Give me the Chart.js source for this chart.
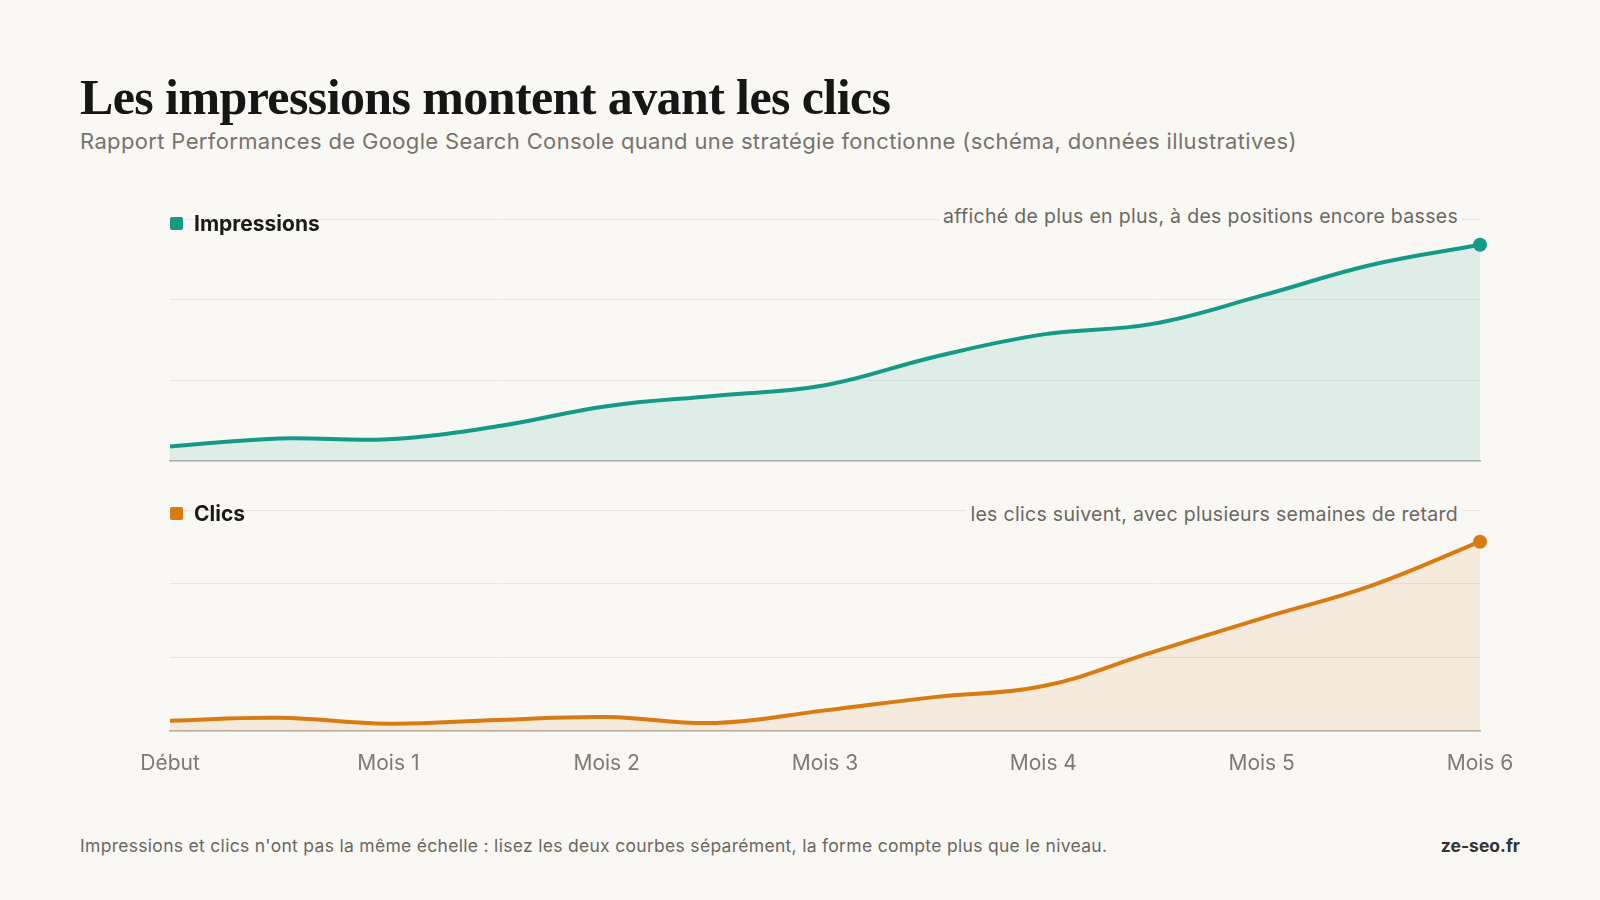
<!DOCTYPE html>
<html lang="fr">
<head>
<meta charset="utf-8">
<script src="https://cdn.jsdelivr.net/npm/chart.js@4/dist/chart.umd.min.js"></script>
<style>
  html, body { margin: 0; padding: 0; background: #f9f8f5; }
  body { width: 1600px; height: 900px; position: relative; overflow: hidden; font-family: Inter, "Noto Sans", sans-serif; }
  .title { position: absolute; left: 80px; top: 68px; font-family: "Liberation Serif", "DejaVu Serif", serif; font-weight: bold; font-size: 50px; color: #161616; letter-spacing: -0.6px; }
  .subtitle { position: absolute; left: 80px; top: 128px; font-size: 22px; color: #77736d; letter-spacing: 0.35px; }
  .box { position: absolute; left: 0; width: 1600px; }
  .legend { position: absolute; left: 170px; font-size: 21px; font-weight: 700; color: #1a1a1a; display: flex; align-items: center; }
  .legend i { width: 13px; height: 13px; border-radius: 2px; margin-right: 11px; display: inline-block; }
  .note { position: absolute; right: 138px; font-size: 19.5px; color: #6b6761; background: #f9f8f5; padding: 0 4px; letter-spacing: 0.3px; }
  .foot { position: absolute; left: 80px; top: 835px; font-size: 17.5px; color: #6b6761; letter-spacing: 0.3px; }
  .brand { position: absolute; right: 80px; top: 835px; font-size: 17.5px; font-weight: 700; color: #333; }
</style>
</head>
<body>
<div class="title">Les impressions montent avant les clics</div>
<div class="subtitle">Rapport Performances de Google Search Console quand une stratégie fonctionne (schéma, données illustratives)</div>

<div class="box" style="top:200px;height:280px"><canvas id="chartImpr"></canvas></div>
<div class="box" style="top:490px;height:310px"><canvas id="chartClics"></canvas></div>

<div class="legend" style="top:211px"><i style="background:#149a87"></i>Impressions</div>
<div class="note" style="top:204px">affiché de plus en plus, à des positions encore basses</div>
<div class="legend" style="top:501px"><i style="background:#d97b10"></i>Clics</div>
<div class="note" style="top:502px">les clics suivent, avec plusieurs semaines de retard</div>

<div class="foot">Impressions et clics n'ont pas la même échelle : lisez les deux courbes séparément, la forme compte plus que le niveau.</div>
<div class="brand">ze-seo.fr</div>

<script>
// ============== DONNÉES ==============
const labels = ['Début', '', 'Mois 1', '', 'Mois 2', '', 'Mois 3', '', 'Mois 4', '', 'Mois 5', '', 'Mois 6'];
const impressions = [0.18, 0.28, 0.27, 0.43, 0.68, 0.81, 0.94, 1.29, 1.57, 1.70, 2.05, 2.43, 2.68];
const clics = [0.14, 0.18, 0.10, 0.15, 0.19, 0.11, 0.28, 0.46, 0.61, 1.07, 1.53, 1.97, 2.57];

const GRID = '#e9e6e0';
const AXIS = '#b5b2ac';

function makeChart(id, values, color, fill, showX) {
    const radii = values.map((v, i) => i === values.length - 1 ? 7 : 0);
    return new Chart(document.getElementById(id), {
        type: 'line',
        data: {
            labels: labels,
            datasets: [{
                data: values,
                borderColor: color,
                backgroundColor: fill,
                borderWidth: 4,
                fill: 'origin',
                tension: 0.4,
                pointRadius: radii,
                pointBackgroundColor: color,
                pointBorderWidth: 0,
                clip: false
            }]
        },
        options: {
            responsive: true,
            maintainAspectRatio: false,
            animation: false,
            layout: {
                padding: showX
                    ? { left: 170, right: 120, top: 20, bottom: 29 }
                    : { left: 170, right: 120, top: 19, bottom: 19 }
            },
            plugins: { legend: { display: false }, tooltip: { enabled: false } },
            scales: {
                y: {
                    min: 0, max: 3,
                    ticks: { display: false, stepSize: 1 },
                    grid: { color: GRID, lineWidth: 1, drawTicks: false },
                    border: { display: false },
                    afterFit: s => { s.width = 0; }
                },
                x: {
                    offset: false,
                    grid: { display: false },
                    border: { color: AXIS, width: 1.5 },
                    ticks: {
                        display: showX,
                        autoSkip: false,
                        maxRotation: 0,
                        padding: 12,
                        color: '#7d7973',
                        font: { family: 'Inter, sans-serif', size: 21 },
                        callback: function (v, i) { return labels[i]; }
                    },
                    afterFit: s => { s.height = showX ? 40 : 0; }
                }
            }
        }
    });
}

makeChart('chartImpr', impressions, '#149a87', 'rgba(20,154,135,0.11)', false);
makeChart('chartClics', clics, '#d97b10', 'rgba(217,123,16,0.11)', true);
</script>
</body>
</html>
